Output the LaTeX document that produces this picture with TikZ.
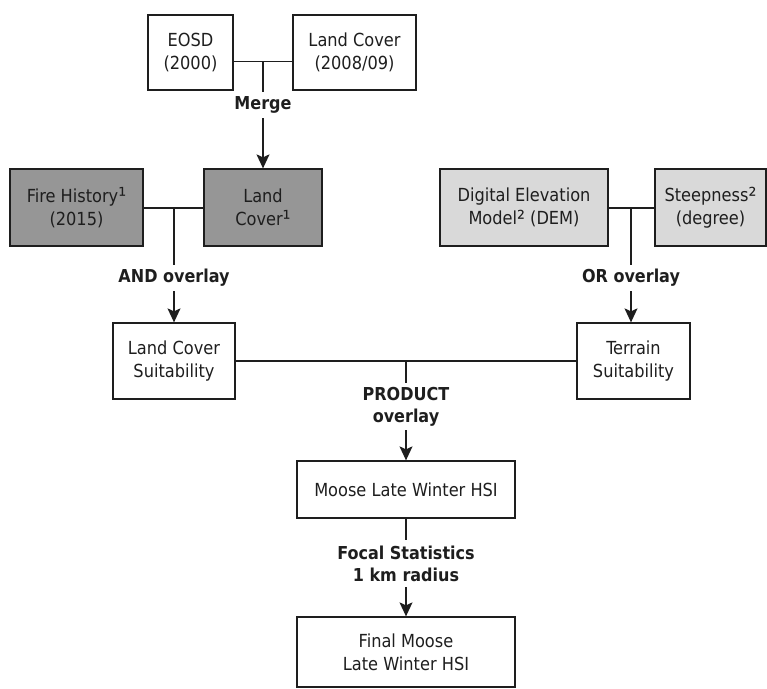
\documentclass[tikz,border=0pt]{standalone}
\usepackage{fontspec}
\setmainfont{DejaVu Sans Condensed}
\usetikzlibrary{arrows.meta}
\definecolor{darkfill}{HTML}{969696}
\definecolor{lightfill}{HTML}{D9D9D9}
\definecolor{ink}{HTML}{1E1E1E}
% footnote marks, set a little larger than the font's own superscript digits
\newcommand{\fnmark}[1]{{\fontsize{22}{23}\selectfont\raisebox{-1.6pt}{#1}}}
\begin{document}
\begin{tikzpicture}[x=1pt,y=-1pt,
  box/.style={draw=ink, line width=1.3pt, inner sep=0pt, align=center,
    text=ink, font=\fontsize{18}{23}\selectfont},
  oplabel/.style={inner sep=0pt, align=center, text=ink,
    font=\fontsize{17.8}{22}\selectfont\bfseries},
  link/.style={line width=1.3pt, draw=ink},
  flow/.style={link, -{Stealth[length=14pt,width=13pt,inset=3pt]}}]
\useasboundingbox (0,0) rectangle (767,688);

% input layers
\node[box, minimum width=85pt, minimum height=75pt] (eosd) at (190.5,52.5) {EOSD\\(2000)};
\node[box, minimum width=123pt, minimum height=75pt] (lc0) at (354.5,52.5) {Land Cover\\(2008/09)};
\node[box, fill=darkfill, minimum width=133pt, minimum height=77pt] (fire) at (76.5,207.5) {Fire History\fnmark{¹}\\(2015)};
\node[box, fill=darkfill, minimum width=118pt, minimum height=77pt] (lc1) at (263,207.5) {Land\\Cover\fnmark{¹}};
\node[box, fill=lightfill, minimum width=168pt, minimum height=77pt] (dem) at (524,207.5) {Digital Elevation\\Model\fnmark{²} (DEM)};
\node[box, fill=lightfill, minimum width=111pt, minimum height=77pt] (steep) at (710.5,207.5) {Steepness\fnmark{²}\\(degree)};

% intermediate and final results
\node[box, minimum width=122pt, minimum height=76pt] (lcs) at (174,361) {Land Cover\\Suitability};
\node[box, minimum width=113pt, minimum height=76pt] (ter) at (633.5,361) {Terrain\\Suitability};
\node[box, minimum width=218pt, minimum height=57pt] (moose) at (406,489.5) {Moose Late Winter HSI};
\node[box, minimum width=218pt, minimum height=70pt] (final) at (406,652) {Final Moose\\Late Winter HSI};

% operation labels
\node[oplabel, minimum height=26pt] (merge) at (263,105) {Merge};
\node[oplabel, minimum height=26pt] (andop) at (174,278) {AND overlay};
\node[oplabel, minimum height=26pt] (orop) at (631,278) {OR overlay};
\node[oplabel, minimum height=47pt] (prod) at (406,406.5) {PRODUCT\\overlay};
\node[oplabel, minimum height=47pt] (focal) at (406,563.5) {Focal Statistics\\1 km radius};

% junctions on the joining lines
\coordinate (j1) at (263,61.5);
\coordinate (j2) at (174,208);
\coordinate (j3) at (631,208);
\coordinate (j4) at (406,361);

% merge
\draw[link] (eosd.east |- j1) -- (lc0.west |- j1);
\draw[link] (j1) -- (merge.north);
\draw[flow] (merge.south) -- (lc1.north);

% AND overlay
\draw[link] (fire.east |- j2) -- (lc1.west |- j2);
\draw[link] (j2) -- (andop.north);
\draw[flow] (andop.south) -- (lcs.north);

% OR overlay
\draw[link] (dem.east |- j3) -- (steep.west |- j3);
\draw[link] (j3) -- (orop.north);
\draw[flow] (orop.south) -- (ter.north -| j3);

% PRODUCT overlay
\draw[link] (lcs.east |- j4) -- (ter.west |- j4);
\draw[link] (j4) -- (prod.north);
\draw[flow] (prod.south) -- (moose.north);

% focal statistics
\draw[link] (moose.south) -- (focal.north);
\draw[flow] (focal.south) -- (final.north);
\end{tikzpicture}
\end{document}
